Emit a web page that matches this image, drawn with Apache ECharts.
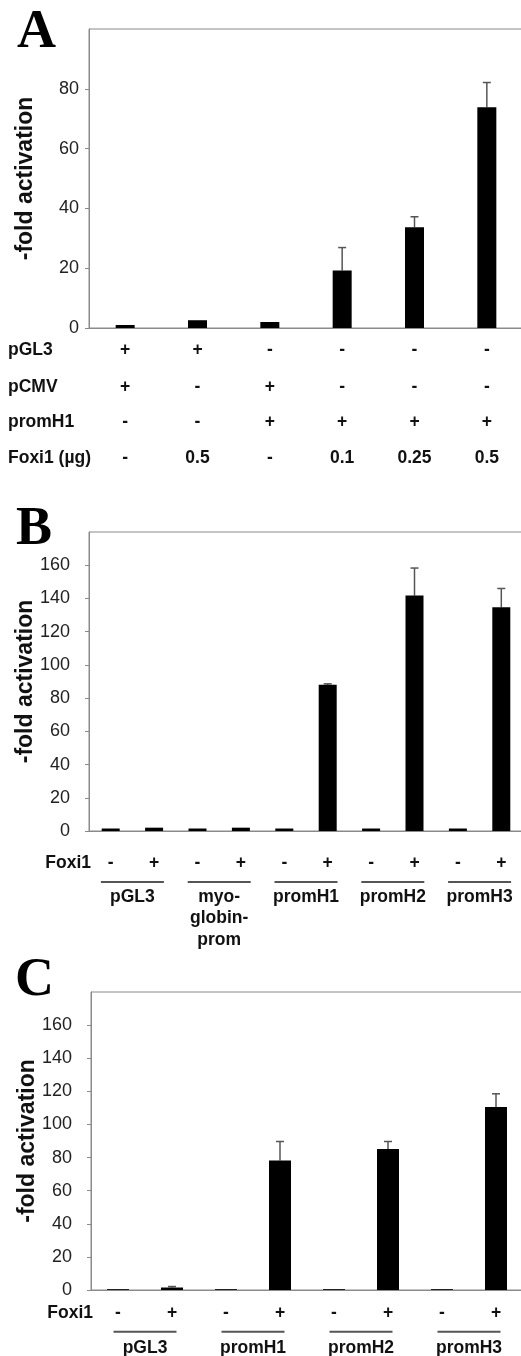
<!DOCTYPE html>
<html>
<head>
<meta charset="utf-8">
<script src="https://cdn.jsdelivr.net/npm/echarts@6/dist/echarts.min.js"></script>
<style>
html, body { margin: 0; padding: 0; background: #fff; }
#chart { width: 521px; height: 1356px; }
</style>
</head>
<body>
<div id="chart"></div>
<script>
// panel A
const aCats = ["1", "2", "3", "4", "5", "6"];
const aValues = [1.0, 2.6, 2.0, 19.2, 33.7, 73.8];
const aErrors = [0, 0, 0, 7.7, 3.5, 8.3];
const aRowNames = ["pGL3", "pCMV", "promH1", "Foxi1 (µg)"];
const aPGL3 = ["+", "+", "-", "-", "-", "-"];
const aPCMV = ["+", "-", "+", "-", "-", "-"];
const aPromH1 = ["-", "-", "+", "+", "+", "+"];
const aFoxi1 = ["-", "0.5", "-", "0.1", "0.25", "0.5"];

// panel B
const bCats = ["1", "2", "3", "4", "5", "6", "7", "8", "9", "10"];
const bValues = [1.5, 2.0, 1.5, 2.0, 1.5, 88.0, 1.5, 141.7, 1.5, 134.7];
const bErrors = [0, 0, 0, 0, 0, 0.6, 0, 16.6, 0, 11.3];
const bFoxi1 = ["-", "+", "-", "+", "-", "+", "-", "+", "-", "+"];
const bGroups = ["pGL3", "myo-\nglobin-\nprom", "promH1", "promH2", "promH3"];

// panel C
const cCats = ["1", "2", "3", "4", "5", "6", "7", "8"];
const cValues = [0.5, 1.5, 0.5, 78.2, 0.5, 85.2, 0.5, 110.5];
const cErrors = [0, 0.6, 0, 11.5, 0, 4.5, 0, 8.0];
const cFoxi1 = ["-", "+", "-", "+", "-", "+", "-", "+"];
const cGroups = ["pGL3", "promH1", "promH2", "promH3"];

const FONT = "'Liberation Sans', Arial, sans-serif";
const AXIS_GRAY = "#8a8a8a";

const grids = [];
const xAxes = [];
const yAxes = [];
const series = [];

function addGrid(top, bottom, left) {
  grids.push({ top: top, bottom: bottom, left: left, right: -2, show: true,
    borderColor: AXIS_GRAY, borderWidth: 1, outerBoundsMode: "none" });
  return grids.length - 1;
}

function addY(grid, max, margin) {
  yAxes.push({
    type: "value", gridIndex: grid, min: 0, max: max, interval: 20,
    axisLine: { show: true, lineStyle: { color: AXIS_GRAY } },
    axisTick: { show: true, length: 4, lineStyle: { color: AXIS_GRAY } },
    splitLine: { show: false },
    axisLabel: { showMaxLabel: false, color: "#222", fontSize: 18, fontFamily: FONT, margin: margin },
    name: "-fold activation", nameLocation: "middle", nameRotate: 90, nameGap: 52,
    nameMoveOverlap: false,
    nameTextStyle: { fontSize: 23, fontWeight: "bold", color: "#111", fontFamily: FONT }
  });
  return yAxes.length - 1;
}

function addBarX(grid, cats) {
  xAxes.push({
    type: "category", gridIndex: grid, data: cats,
    axisLine: { show: true, lineStyle: { color: AXIS_GRAY } },
    axisTick: { show: false }, axisLabel: { show: false }
  });
  return xAxes.length - 1;
}

// a row of text under the plot, drawn as an extra category axis
function addRowX(grid, vals, offset, name, nameGap, nameAlign) {
  xAxes.push({
    type: "category", gridIndex: grid, data: vals, position: "bottom", offset: offset,
    axisLine: { show: false }, axisTick: { show: false },
    axisLabel: { interval: 0, margin: 0, color: "#111", fontSize: 17.5, fontWeight: "bold",
      fontFamily: FONT, lineHeight: 20 },
    name: name || "", nameLocation: "start", nameGap: nameGap || 0, nameMoveOverlap: false,
    nameTextStyle: { align: nameAlign || "right", verticalAlign: "top", lineHeight: 20,
      color: "#111", fontSize: 17.5, fontWeight: "bold", fontFamily: FONT }
  });
  return xAxes.length - 1;
}

// underline per group
function addLineX(grid, groups, offset, width) {
  xAxes.push({
    type: "category", gridIndex: grid, data: groups, position: "bottom", offset: offset,
    axisLine: { show: false }, axisTick: { show: false },
    axisLabel: { interval: 0, margin: 0, formatter: () => "{ln| }",
      rich: { ln: { width: width, height: 2, lineHeight: 2, fontSize: 2, backgroundColor: "#555" } } }
  });
  return xAxes.length - 1;
}

function addGroupX(grid, groups, offset) {
  xAxes.push({
    type: "category", gridIndex: grid, data: groups, position: "bottom", offset: offset,
    axisLine: { show: false }, axisTick: { show: false },
    axisLabel: { interval: 0, margin: 0, color: "#111", fontSize: 17.5, fontWeight: "bold",
      fontFamily: FONT, lineHeight: 21.5 }
  });
  return xAxes.length - 1;
}

function addBars(x, y, vals, errs, barWidth) {
  series.push({
    type: "bar", xAxisIndex: x, yAxisIndex: y, data: vals, barWidth: barWidth,
    itemStyle: { color: "#000" }, silent: true, animation: false
  });
  series.push({
    type: "custom", xAxisIndex: x, yAxisIndex: y, silent: true, animation: false,
    encode: { x: 0, y: 1 },
    data: vals.map((v, i) => [i, v, errs[i]]),
    renderItem: function (params, api) {
      const i = api.value(0), v = api.value(1), e = api.value(2);
      if (!e) return null;
      const p0 = api.coord([i, v]);
      const p1 = api.coord([i, v + e]);
      const st = { stroke: "#555", lineWidth: 1.5 };
      return {
        type: "group", children: [
          { type: "line", shape: { x1: p0[0], y1: p0[1], x2: p1[0], y2: p1[1] }, style: st },
          { type: "line", shape: { x1: p1[0] - 4, y1: p1[1], x2: p1[0] + 4, y2: p1[1] }, style: st }
        ]
      };
    }
  });
}

// A
const gA = addGrid(29, 1356 - 328, 89);
const yA = addY(gA, 100, 10);
const xA = addBarX(gA, aCats);
addRowX(gA, aPGL3, 12, aRowNames[0], 81, "left");
addRowX(gA, aPCMV, 49, aRowNames[1], 81, "left");
addRowX(gA, aPromH1, 84, aRowNames[2], 81, "left");
addRowX(gA, aFoxi1, 120, aRowNames[3], 81, "left");
addBars(xA, yA, aValues, aErrors, 19);

// B
const gB = addGrid(532, 1356 - 831, 89);
const yB = addY(gB, 180, 19);
const xB = addBarX(gB, bCats);
addRowX(gB, bFoxi1, 22.5, "Foxi1", -2, "right");
addLineX(gB, bGroups, 50, 63);
addGroupX(gB, bGroups, 55);
addBars(xB, yB, bValues, bErrors, 18);

// C
const gC = addGrid(992, 1356 - 1290, 91);
const yC = addY(gC, 180, 19);
const xC = addBarX(gC, cCats);
addRowX(gC, cFoxi1, 12.7, "Foxi1", -2, "right");
addLineX(gC, cGroups, 40.7, 63);
addGroupX(gC, cGroups, 47.5);
addBars(xC, yC, cValues, cErrors, 22);

const letterStyle = { fontFamily: "'Liberation Serif', 'Times New Roman', serif", fontWeight: "bold",
  fontSize: 54, color: "#000" };

const chart = echarts.init(document.getElementById("chart"));
chart.setOption({
  animation: false,
  backgroundColor: "#fff",
  title: [
    { text: "A", left: 17, top: 6, padding: 0, textStyle: letterStyle },
    { text: "B", left: 16, top: 503, padding: 0, textStyle: letterStyle },
    { text: "C", left: 15, top: 954, padding: 0, textStyle: letterStyle }
  ],
  grid: grids,
  xAxis: xAxes,
  yAxis: yAxes,
  series: series
});
</script>
</body>
</html>
